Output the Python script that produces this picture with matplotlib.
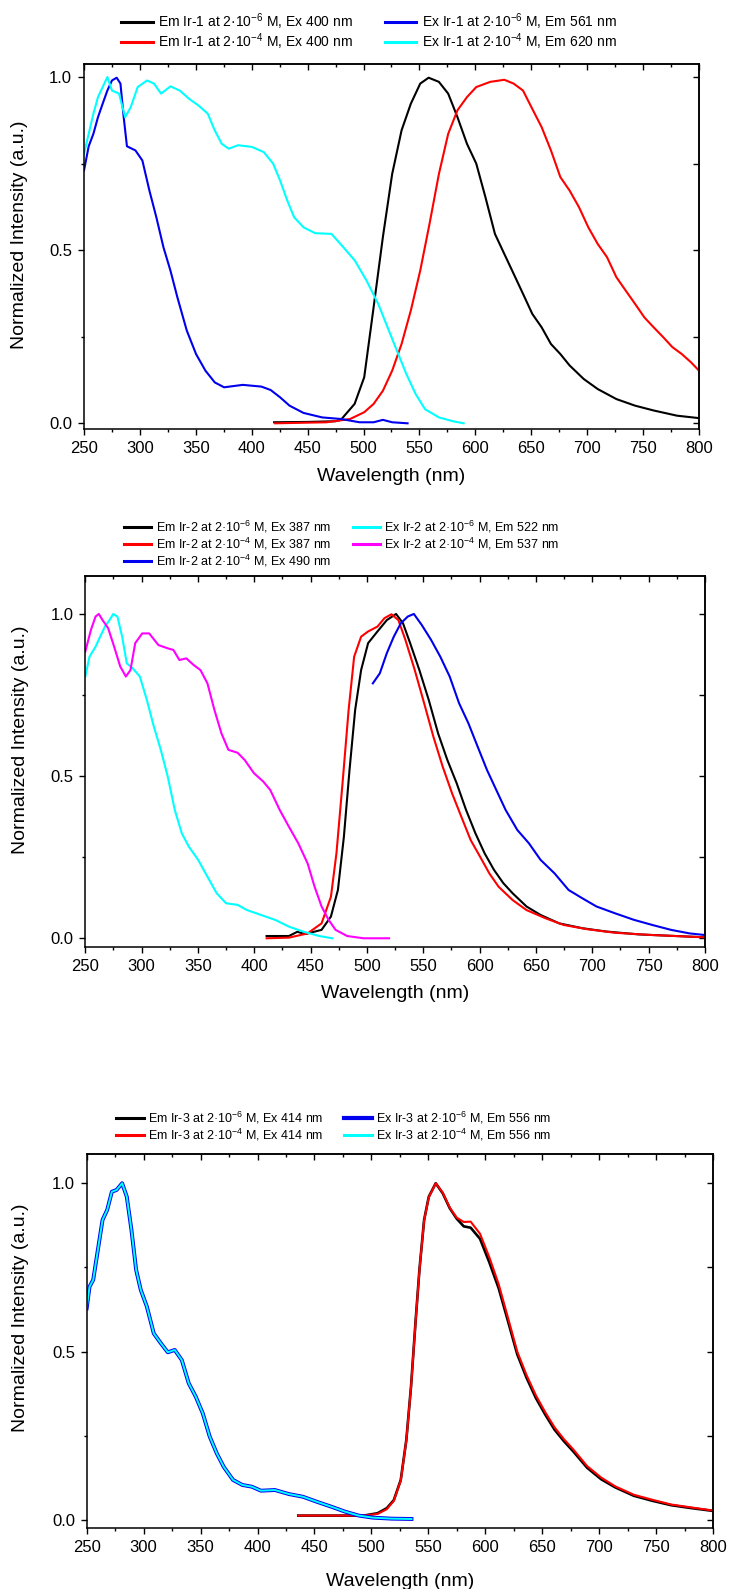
import numpy as np
import matplotlib
matplotlib.use("Agg")
import matplotlib.pyplot as plt
from matplotlib.ticker import MultipleLocator, NullFormatter

plt.rcParams['font.family'] = ['Liberation Sans', 'DejaVu Sans']
plt.rcParams['mathtext.fontset'] = 'custom'
plt.rcParams['mathtext.rm'] = 'Liberation Sans'
plt.rcParams['mathtext.it'] = 'Liberation Sans:italic'
plt.rcParams['mathtext.bf'] = 'Liberation Sans:bold'

# ---------------- Panel 1 : Ir-1 ----------------
p1_em6_x = [420, 450, 475, 479.7, 492, 500.6, 509, 517.3, 525.6, 534, 542.3, 550.7, 558.2, 567.4, 575.7, 584, 592.5,
            600.8, 609, 617.5, 625.9, 634.2, 642.6, 650.9, 659.3, 667.6, 676, 684.3, 696.9, 709.4, 726.1, 742.8,
            759.5, 780.4, 800]
p1_em6_y = [0.003, 0.004, 0.006, 0.01, 0.056, 0.133, 0.335, 0.538, 0.72, 0.846, 0.923, 0.981, 0.998, 0.986, 0.952,
            0.884, 0.807, 0.75, 0.653, 0.547, 0.489, 0.432, 0.374, 0.316, 0.277, 0.229, 0.2, 0.167, 0.128, 0.099,
            0.07, 0.051, 0.037, 0.022, 0.015]
p1_em4_x = [421, 467, 488, 500.6, 509, 517.3, 525.6, 534, 542.3, 550.7, 559, 567.4, 575.7, 584, 592.5, 600.8, 613.3,
            625.9, 634.2, 642.6, 650.9, 659.3, 667.6, 676, 684.3, 692.7, 701, 709.4, 717.7, 726.1, 734.5, 742.8,
            751.1, 759.5, 767.9, 776.2, 784.6, 792.9, 800]
p1_em4_y = [0.0, 0.003, 0.0125, 0.032, 0.056, 0.094, 0.152, 0.229, 0.326, 0.441, 0.576, 0.72, 0.836, 0.904, 0.942,
            0.971, 0.986, 0.992, 0.981, 0.961, 0.908, 0.855, 0.788, 0.711, 0.672, 0.624, 0.566, 0.518, 0.48, 0.422,
            0.383, 0.345, 0.306, 0.277, 0.249, 0.22, 0.2, 0.176, 0.152]
p1_ex6_x = [250, 254.2, 258.4, 262.5, 266.7, 270.9, 275, 279.2, 282.6, 285.5, 288.4, 296, 302.2, 308.5, 314.7, 321,
            327.3, 333.5, 341.9, 350.2, 358.6, 367, 375.3, 392, 408.7, 417, 425.4, 433.8, 446.3, 463, 479.7, 496.4,
            509, 517.3, 525.6, 539.4]
p1_ex6_y = [0.73, 0.80, 0.836, 0.884, 0.923, 0.961, 0.99, 0.998, 0.981, 0.884, 0.8, 0.788, 0.759, 0.672, 0.595,
            0.509, 0.441, 0.364, 0.268, 0.2, 0.152, 0.118, 0.104, 0.111, 0.106, 0.096, 0.075, 0.051, 0.03, 0.017,
            0.0125, 0.003, 0.003, 0.01, 0.003, 0.0]
p1_ex4_x = [250, 254.2, 258.4, 262.5, 266.7, 270.9, 275, 281.3, 286.8, 291.8, 298, 306.4, 312.6, 318.9, 327.3, 335.6,
            344, 352.3, 360.7, 366.9, 373.2, 379.5, 387.8, 400.3, 410.8, 419.1, 425.4, 431.7, 437.9, 446.3, 456.7,
            471.3, 481.8, 492.2, 502.7, 513.1, 521.5, 529.8, 538.2, 546.5, 554.9, 567.4, 579.9, 589.5]
p1_ex4_y = [0.778, 0.836, 0.894, 0.942, 0.971, 1.0, 0.961, 0.952, 0.884, 0.913, 0.971, 0.99, 0.981, 0.952, 0.973,
            0.961, 0.937, 0.918, 0.894, 0.846, 0.807, 0.793, 0.803, 0.798, 0.783, 0.75, 0.701, 0.644, 0.595, 0.566,
            0.549, 0.547, 0.509, 0.47, 0.412, 0.345, 0.277, 0.21, 0.143, 0.085, 0.041, 0.017, 0.006, 0.0]
p1_labels = [r"Em Ir-1 at 2·10$^{\mathrm{-6}}$ M, Ex 400 nm", r"Em Ir-1 at 2·10$^{\mathrm{-4}}$ M, Ex 400 nm",
             r"Ex Ir-1 at 2·10$^{\mathrm{-6}}$ M, Em 561 nm", r"Ex Ir-1 at 2·10$^{\mathrm{-4}}$ M, Em 620 nm"]

# ---------------- Panel 2 : Ir-2 ----------------
p2_em6_x = [410.9, 430.7, 438.2, 445.2, 459.7, 468, 474.2, 479.5, 484.5, 489.5, 494.8, 501, 509.3, 517.6, 525.8, 532,
            538.3, 546.5, 554.8, 563.1, 571.3, 579.6, 587.9, 596.2, 604.4, 612.7, 621, 629.2, 641.6, 654, 670.6,
            691.3, 712, 740.9, 774, 800]
p2_em6_y = [0.007, 0.007, 0.02, 0.013, 0.026, 0.067, 0.149, 0.313, 0.519, 0.704, 0.827, 0.91, 0.946, 0.981, 1.0,
            0.971, 0.91, 0.827, 0.735, 0.632, 0.55, 0.478, 0.396, 0.324, 0.262, 0.211, 0.17, 0.139, 0.098, 0.072,
            0.046, 0.031, 0.021, 0.012, 0.007, 0.003]
p2_em4_x = [410.9, 430.7, 447.3, 459.7, 468, 472.9, 478.3, 483.7, 488.6, 494.8, 501, 509.3, 515.5, 521.7, 527.9, 534.1,
            542.4, 550.7, 558.9, 567.2, 575.5, 583.7, 592, 600.3, 608.6, 616.8, 629.2, 641.6, 658.2, 674.7, 695.4,
            720.2, 753.3, 800]
p2_em4_y = [0.0, 0.002, 0.015, 0.046, 0.128, 0.262, 0.478, 0.704, 0.868, 0.93, 0.946, 0.961, 0.987, 0.999, 0.981,
            0.92, 0.827, 0.725, 0.622, 0.529, 0.447, 0.375, 0.303, 0.252, 0.2, 0.159, 0.118, 0.087, 0.062, 0.041,
            0.028, 0.017, 0.01, 0.003]
p2_em4b_x = [505.2, 511.4, 517.6, 523.8, 530, 536.2, 541.6, 548.6, 556.9, 565.1, 573.4, 581.7, 590, 598.2, 606.5,
             614.8, 623, 633.4, 643.7, 654, 666.5, 678.9, 691.3, 703.7, 720.2, 736.8, 753.3, 769.8, 786.4, 800]
p2_em4b_y = [0.786, 0.817, 0.879, 0.93, 0.971, 0.992, 1.0, 0.966, 0.92, 0.868, 0.807, 0.725, 0.663, 0.591, 0.519,
             0.457, 0.396, 0.334, 0.293, 0.242, 0.2, 0.149, 0.123, 0.098, 0.077, 0.057, 0.041, 0.026, 0.015, 0.01]
p2_ex6_x = [250, 253.7, 259.1, 263.2, 267.4, 271.5, 274.8, 278.5, 282.7, 286.8, 292.2, 298.4, 304.6, 310.8, 317, 323.2,
            329.4, 335.6, 341.8, 350.1, 358.4, 366.6, 374.9, 385.2, 393.5, 405.9, 418.3, 430.7, 443.1, 457.6, 469.2]
p2_ex6_y = [0.807, 0.868, 0.899, 0.93, 0.961, 0.981, 1.0, 0.992, 0.93, 0.848, 0.832, 0.807, 0.735, 0.653, 0.581,
            0.498, 0.396, 0.324, 0.283, 0.242, 0.19, 0.139, 0.108, 0.103, 0.087, 0.072, 0.057, 0.036, 0.021, 0.007,
            0.0]
p2_ex4_x = [250, 255, 259.1, 262, 265.3, 270.3, 275.6, 281, 286, 290.1, 294.3, 300.5, 306.7, 314.9, 323.2, 328.2,
            333.5, 339.7, 346, 352.2, 358.4, 364.6, 370.8, 377, 385.2, 391.4, 399.7, 408, 414.2, 422.5, 430.7, 439,
            447.3, 453.5, 459.7, 465.9, 472.1, 482.4, 496.9, 519.6]
p2_ex4_y = [0.884, 0.951, 0.992, 1.0, 0.981, 0.956, 0.899, 0.838, 0.807, 0.827, 0.91, 0.94, 0.94, 0.904, 0.894,
            0.889, 0.858, 0.863, 0.843, 0.827, 0.786, 0.704, 0.632, 0.581, 0.572, 0.55, 0.509, 0.483, 0.457, 0.396,
            0.344, 0.293, 0.231, 0.159, 0.098, 0.057, 0.026, 0.007, 0.0, 0.0]
p2_labels = [r"Em Ir-2 at 2·10$^{\mathrm{-6}}$ M, Ex 387 nm", r"Em Ir-2 at 2·10$^{\mathrm{-4}}$ M, Ex 387 nm",
             r"Em Ir-2 at 2·10$^{\mathrm{-4}}$ M, Ex 490 nm", r"Ex Ir-2 at 2·10$^{\mathrm{-6}}$ M, Em 522 nm",
             r"Ex Ir-2 at 2·10$^{\mathrm{-4}}$ M, Em 537 nm"]

# ---------------- Panel 3 : Ir-3 ----------------
p3_em_x = [435.8, 468.5, 493.1, 505.4, 513.5, 519.7, 525.8, 530.7, 534.8, 538.9, 542.2, 546.3, 550.4, 556.5, 562.7,
           568.8, 574.9, 581.1, 587.2, 595.4, 603.6, 611.8, 620, 628.1, 636.3, 644.5, 652.7, 660.9, 669.1, 677.2,
           689.5, 701.8, 714.1, 730.4, 746.8, 763.2, 779.5, 800]
p3_em6_y = [0.013, 0.013, 0.013, 0.02, 0.035, 0.059, 0.119, 0.238, 0.396, 0.594, 0.743, 0.891, 0.96, 1.0, 0.97,
            0.926, 0.895, 0.872, 0.868, 0.835, 0.765, 0.688, 0.59, 0.492, 0.422, 0.362, 0.313, 0.268, 0.234, 0.204,
            0.155, 0.121, 0.097, 0.072, 0.057, 0.044, 0.036, 0.027]
p3_em4_y = [0.013, 0.013, 0.013, 0.018, 0.032, 0.057, 0.117, 0.236, 0.394, 0.592, 0.741, 0.889, 0.958, 1.0, 0.972,
            0.928, 0.898, 0.885, 0.886, 0.85, 0.78, 0.7, 0.6, 0.5, 0.43, 0.37, 0.32, 0.275, 0.24, 0.21,
            0.16, 0.126, 0.1, 0.075, 0.06, 0.046, 0.038, 0.028]
p3_ex_x = [250, 252.5, 255.7, 259.8, 263.9, 268, 272.1, 276.2, 281.1, 285.2, 289.3, 293.4, 297.5, 302.8, 308.9, 315.1,
           321.2, 327.3, 333.5, 339.6, 345.8, 351.9, 358, 364.2, 370.3, 378.5, 386.7, 394.9, 403, 415.3, 427.6,
           439.9, 452.2, 464.4, 476.7, 489, 501.3, 517.6, 535.2]
p3_ex_y = [0.629, 0.693, 0.713, 0.802, 0.891, 0.921, 0.975, 0.98, 1.0, 0.96, 0.861, 0.743, 0.683, 0.634, 0.554,
           0.525, 0.498, 0.505, 0.475, 0.406, 0.366, 0.317, 0.248, 0.198, 0.158, 0.119, 0.104, 0.099, 0.087, 0.089,
           0.077, 0.069, 0.054, 0.04, 0.025, 0.013, 0.007, 0.004, 0.003]
p3_labels = [r"Em Ir-3 at 2·10$^{\mathrm{-6}}$ M, Ex 414 nm", r"Em Ir-3 at 2·10$^{\mathrm{-4}}$ M, Ex 414 nm",
             r"Ex Ir-3 at 2·10$^{\mathrm{-6}}$ M, Em 556 nm", r"Ex Ir-3 at 2·10$^{\mathrm{-4}}$ M, Em 556 nm"]

W, H = 730, 1589
fig = plt.figure(figsize=(W / 100, H / 100), dpi=100)


def add_axes(l, r, t, b):
    return fig.add_axes([l / W, 1 - b / H, (r - l) / W, (b - t) / H])


def style(ax, ylim):
    ax.set_xlim(250, 800)
    ax.set_ylim(*ylim)
    for s in ax.spines.values():
        s.set_linewidth(1.1)
    ax.xaxis.set_major_locator(MultipleLocator(50))
    ax.xaxis.set_minor_locator(MultipleLocator(25))
    ax.yaxis.set_major_locator(MultipleLocator(0.5))
    ax.yaxis.set_minor_locator(MultipleLocator(0.25))
    ax.yaxis.set_major_formatter(matplotlib.ticker.FormatStrFormatter('%.1f'))
    ax.tick_params(which='major', direction='out', length=4.5, width=1.0, labelsize=12, pad=4)
    ax.tick_params(which='minor', direction='out', length=2.3, width=1.0)
    sx = ax.secondary_xaxis('top')
    sx.xaxis.set_major_locator(MultipleLocator(50))
    sx.xaxis.set_minor_locator(MultipleLocator(25))
    sx.xaxis.set_major_formatter(NullFormatter())
    sx.tick_params(which='major', direction='in', length=4.5, width=1.0)
    sx.tick_params(which='minor', direction='in', length=2.3, width=1.0)
    sy = ax.secondary_yaxis('right')
    sy.yaxis.set_major_locator(MultipleLocator(0.5))
    sy.yaxis.set_minor_locator(MultipleLocator(0.25))
    sy.yaxis.set_major_formatter(NullFormatter())
    sy.tick_params(which='major', direction='in', length=4.5, width=1.0)
    sy.tick_params(which='minor', direction='in', length=4.5, width=1.0)
    for s in list(sx.spines.values()) + list(sy.spines.values()):
        s.set_linewidth(1.1)


def labels(ax, xlab_y, ylab_x, ylab_y):
    l, b, w, h = ax.get_position().bounds
    fig.text(l + w / 2, 1 - xlab_y / H, "Wavelength (nm)", ha='center', va='center', fontsize=14)
    fig.text(ylab_x / W, 1 - ylab_y / H, "Normalized Intensity (a.u.)", ha='center', va='center',
             rotation=90, fontsize=14)


def legend(ax, x, y, fs, colsp, hl, hpad, lsp, lws):
    leg = ax.legend(loc='upper left', bbox_to_anchor=(x / W, 1 - y / H), bbox_transform=fig.transFigure,
                    ncol=2, frameon=False, fontsize=fs, borderpad=0, borderaxespad=0, columnspacing=colsp,
                    handlelength=hl, handletextpad=hpad, labelspacing=lsp)
    for hdl, lw in zip(leg.legend_handles, lws):
        hdl.set_linewidth(lw)
    return leg


LW = 1.5

# Panel 1
ax1 = add_axes(84, 699, 64.3, 429.3)
ax1.plot(p1_em6_x, p1_em6_y, color='black', lw=LW, label=p1_labels[0])
ax1.plot(p1_em4_x, p1_em4_y, color='red', lw=LW, label=p1_labels[1])
ax1.plot(p1_ex6_x, p1_ex6_y, color='#0000ee', lw=LW, label=p1_labels[2])
ax1.plot(p1_ex4_x, p1_ex4_y, color='cyan', lw=LW, label=p1_labels[3])
style(ax1, (-0.0173, 1.0367))
labels(ax1, 476.5, 20, 235)
legend(ax1, 121, 11, 10, 2.3, 2.27, 0.4, 0.0, [2.2] * 4)

# Panel 2
ax2 = add_axes(85.3, 705, 576, 947.3)
ax2.plot(p2_em6_x, p2_em6_y, color='black', lw=LW, label=p2_labels[0])
ax2.plot(p2_em4_x, p2_em4_y, color='red', lw=LW, label=p2_labels[1])
ax2.plot(p2_em4b_x, p2_em4b_y, color='#0000ee', lw=LW, label=p2_labels[2])
ax2.plot(p2_ex6_x, p2_ex6_y, color='cyan', lw=LW, label=p2_labels[3])
ax2.plot(p2_ex4_x, p2_ex4_y, color='magenta', lw=LW, label=p2_labels[4])
style(ax2, (-0.0278, 1.117))
labels(ax2, 993.6, 21, 740)
legend(ax2, 124, 519, 9, 1.75, 2.14, 0.38, 0.05, [2.2] * 5)

# Panel 3
ax3 = add_axes(86.7, 713, 1154.3, 1527.7)
ax3.plot(p3_em_x, p3_em6_y, color='black', lw=LW + 0.4, label=p3_labels[0])
ax3.plot(p3_em_x, p3_em4_y, color='red', lw=LW, label=p3_labels[1])
ax3.plot(p3_ex_x, p3_ex_y, color='#0000ee', lw=2.8, label=p3_labels[2])
ax3.plot(p3_ex_x, p3_ex_y, color='cyan', lw=1.4, label=p3_labels[3])
style(ax3, (-0.0229, 1.086))
labels(ax3, 1581.7, 21, 1318)
legend(ax3, 116.4, 1109.5, 9, 1.7, 2.2, 0.3, 0.05, [2.2, 2.2, 3.0, 2.2])

fig.savefig("out.png", dpi=100)
